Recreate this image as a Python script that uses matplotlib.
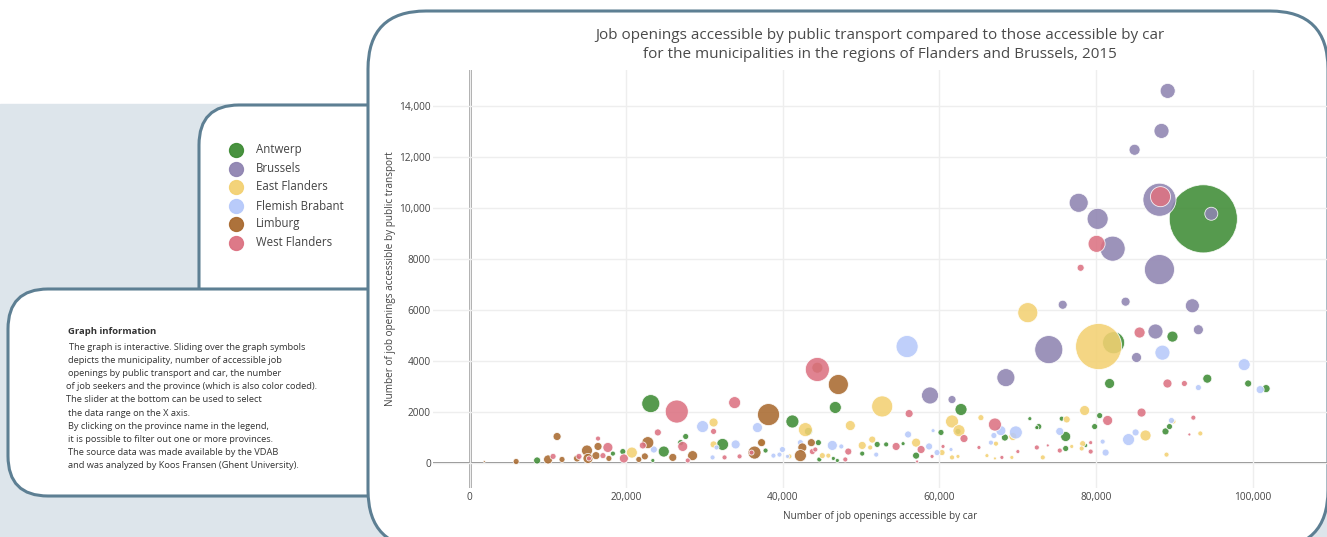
import matplotlib
matplotlib.use("Agg")
import matplotlib.pyplot as plt
from matplotlib.patches import FancyBboxPatch, Rectangle
from matplotlib.ticker import FuncFormatter

plt.rcParams['font.family'] = ['Open Sans', 'DejaVu Sans']

# Province names and colours (legend order = drawing order)
provinces = ["Antwerp", "Brussels", "East Flanders", "Flemish Brabant", "Limburg", "West Flanders"]
colors = ["#3f8c35", "#8f84b1", "#f3d173", "#b6c9fa", "#a96a30", "#dc7282"]

# x = job openings accessible by car, y = by public transport, seekers = bubble size
antwerp_car = [93700, 82240, 89760, 81730, 94210, 99430, 101720, 62750, 62360, 60190, 68350, 71540, 72680, 72430,
               75610, 76120, 80460, 79820, 88870, 89380, 76120, 78670, 57010, 55350, 46690, 41210, 43250, 44530,
               52040, 53190, 50130, 46440, 44650, 46950, 37780, 32290, 27580, 26940, 23120, 24780, 18280, 19550,
               8600, 23380]
antwerp_pt = [9560, 4700, 4940, 3100, 3290, 3100, 2900, 2080, 1220, 1180, 980, 1720, 1410, 1370, 1720, 1020, 1840,
              1410, 1220, 1410, 550, 670, 270, 740, 2160, 1610, 1220, 780, 710, 710, 350, 160, 120, 80, 470, 710,
              1020, 780, 2310, 430, 350, 430, 80, 80]
antwerp_seekers = [46240, 4840, 1210, 1000, 810, 490, 640, 1440, 360, 360, 490, 160, 360, 160, 250, 1000, 360, 360,
                   490, 360, 360, 160, 490, 160, 1440, 1690, 640, 360, 360, 250, 250, 160, 250, 160, 250, 1440, 360,
                   360, 3240, 1210, 250, 360, 490, 160]

brussels_car = [89150, 88360, 84920, 77780, 80200, 88100, 94720, 82120, 88100, 75740, 83770, 92300, 93070, 85170,
                87590, 73960, 68480, 58790, 61600]
brussels_pt = [14580, 13010, 12270, 10190, 9560, 10310, 9760, 8390, 7570, 6190, 6310, 6150, 5210, 4120, 5140, 4430,
               3330, 2630, 2470]
brussels_seekers = [2250, 2250, 1210, 3610, 4410, 10890, 1690, 6250, 9000, 810, 810, 1960, 1000, 1000, 2250, 7840,
                    3240, 2890, 640]

eflanders_car = [80330, 71280, 52680, 48610, 61600, 62490, 65290, 78540, 76250, 86320, 89880, 93320, 89000, 69370,
                 67210, 57010, 60320, 61600, 62360, 66060, 69240, 67080, 73190, 76890, 78290, 78160, 42870, 31140,
                 20700, 37270, 50130, 51410, 51150, 45030, 45800, 31140, 40830]
eflanders_pt = [4550, 5880, 2200, 1450, 1610, 1250, 1760, 2040, 1690, 1060, 1610, 1140, 310, 1020, 740, 780, 390,
                200, 240, 270, 200, 160, 200, 630, 740, 550, 1290, 1570, 390, 780, 670, 900, 590, 270, 270, 710, 240]
eflanders_seekers = [21160, 4000, 4410, 1000, 1690, 1440, 360, 1000, 490, 1210, 250, 250, 250, 640, 250, 810, 360,
                     250, 160, 160, 160, 90, 250, 160, 360, 250, 1960, 810, 1210, 490, 640, 490, 250, 360, 250, 490,
                     250]

fbrabant_car = [55860, 88480, 98920, 100960, 93070, 89630, 84150, 85050, 80840, 81220, 75360, 69750, 67840, 66950,
                66570, 55990, 59180, 58670, 59690, 61470, 29740, 36750, 33960, 46310, 47460, 51920, 39940, 39560,
                38790, 31010, 31520, 23510, 42230, 40580, 36630]
fbrabant_pt = [4550, 4310, 3840, 2860, 2940, 1650, 900, 1180, 820, 390, 1220, 1180, 1250, 1060, 780, 1100, 1250, 630,
               390, 510, 1410, 1370, 710, 670, 630, 310, 510, 310, 270, 200, 590, 510, 780, 240, 240]
fbrabant_seekers = [4840, 2250, 1440, 640, 360, 360, 1440, 490, 250, 490, 640, 1690, 1000, 360, 250, 490, 160, 490,
                    360, 160, 1440, 1000, 810, 1000, 250, 250, 360, 250, 250, 250, 250, 490, 360, 160, 250]

limburg_car = [1850, 5920, 10000, 11150, 11780, 13700, 14970, 15100, 16380, 16120, 17770, 21590, 22740, 22360, 25930,
               28460, 38160, 47080, 44400, 36370, 37270, 42480, 42230, 43630]
limburg_pt = [40, 40, 120, 1020, 120, 160, 470, 160, 630, 270, 160, 120, 780, 240, 200, 270, 1880, 3060, 3720, 390,
              780, 590, 270, 780]
limburg_seekers = [40, 360, 810, 640, 360, 490, 1210, 1000, 640, 640, 360, 360, 1440, 490, 640, 1000, 4840, 4000,
                   1210, 1690, 640, 810, 1440, 640]

wflanders_car = [88230, 80070, 78030, 85560, 44400, 26440, 33830, 56120, 81480, 85810, 89120, 91280, 92430, 91920,
                 63130, 67080, 57650, 54460, 59050, 60450, 65040, 67970, 70010, 72430, 73830, 75360, 79310, 79310,
                 48350, 47970, 57140, 43760, 44140, 31140, 27200, 24020, 22100, 19680, 17640, 17010, 16380, 15220,
                 13950, 10640, 27840, 32540, 34460, 35990]
wflanders_pt = [10430, 8580, 7640, 5100, 3650, 2000, 2350, 1920, 1650, 1960, 3100, 3100, 1760, 1100, 940, 1490, 510,
                630, 240, 630, 590, 200, 430, 590, 670, 470, 780, 430, 430, 120, 40, 430, 510, 1220, 630, 1180, 670,
                160, 590, 270, 940, 160, 240, 240, 80, 200, 240, 390]
wflanders_seekers = [4000, 2890, 490, 1210, 5760, 5290, 1440, 640, 1000, 810, 810, 360, 250, 90, 640, 1690, 640, 640,
                     160, 160, 160, 160, 160, 250, 90, 250, 160, 250, 490, 250, 90, 360, 250, 360, 1000, 490, 490,
                     810, 1000, 360, 250, 250, 360, 360, 250, 250, 250, 250]

x_ticks = [0, 20000, 40000, 60000, 80000, 100000]
y_ticks = [0, 2000, 4000, 6000, 8000, 10000, 12000, 14000]

title = ("Job openings accessible by public transport compared to those accessible by car\n"
         "for the municipalities in the regions of Flanders and Brussels, 2015")
info_title = "Graph information"
info_lines = [
    "The graph is interactive. Sliding over the graph symbols",
    "depicts the municipality, number of accessible job",
    "openings by public transport and car, the number",
    "of job seekers and the province (which is also color coded).",
    "The slider at the bottom can be used to select",
    "the data range on the X axis.",
    "By clicking on the province name in the legend,",
    "it is possible to filter out one or more provinces.",
    "The source data was made available by the VDAB",
    "and was analyzed by Koos Fransen (Ghent University).",
]

series = [
    (antwerp_car, antwerp_pt, antwerp_seekers),
    (brussels_car, brussels_pt, brussels_seekers),
    (eflanders_car, eflanders_pt, eflanders_seekers),
    (fbrabant_car, fbrabant_pt, fbrabant_seekers),
    (limburg_car, limburg_pt, limburg_seekers),
    (wflanders_car, wflanders_pt, wflanders_seekers),
]
size_scale = 0.052  # seekers -> marker area (pt^2)

border = "#5d7f93"
W, H = 1327, 537
fig = plt.figure(figsize=(W / 100, H / 100), dpi=100)

# background layer in pixel coordinates
bg = fig.add_axes([0, 0, 1, 1])
bg.set_xlim(0, W)
bg.set_ylim(H, 0)
bg.axis('off')
bg.add_patch(Rectangle((0, 104), W, H, color="#dde5eb", zorder=0))
bg.add_patch(FancyBboxPatch((199, 105), 300, 300, boxstyle="round,pad=0,rounding_size=40",
                            fc="white", ec=border, lw=2.2, zorder=1))
bg.add_patch(FancyBboxPatch((8, 289), 450, 207, boxstyle="round,pad=0,rounding_size=40",
                            fc="white", ec=border, lw=2.2, zorder=2))
bg.add_patch(FancyBboxPatch((368, 11), 960, 537, boxstyle="round,pad=0,rounding_size=58",
                            fc="white", ec=border, lw=2.2, zorder=3))

# legend
leg_y = [150, 169, 187, 206, 224, 243]
for name, c, yy in zip(provinces, colors, leg_y):
    bg.scatter([236], [yy], s=100, color=c, alpha=0.95, zorder=5)
    bg.text(256, yy, name, fontsize=8.3, color="#444444", va='center', zorder=5)

# info text
bg.text(68, 331, info_title, fontsize=6.8, fontweight='bold', color="#333333", va='center', zorder=5)
info_x = [69, 68, 68, 66, 66, 68, 68, 68, 68, 68]
for i, line in enumerate(info_lines):
    bg.text(info_x[i], 347 + i * 13.2, line, fontsize=6.7, color="#333333", va='center', zorder=5)

# title
bg.text(880, 45, title, fontsize=11, color="#4a4a4a", ha='center', va='center',
        linespacing=1.4, zorder=5)

# main plot
ax = fig.add_axes([433 / W, 1 - 488 / H, (W - 433) / W, (488 - 70) / H])
ax.set_facecolor('none')
for (xs, ys, ss), c, name in zip(series, colors, provinces):
    ax.scatter(xs, ys, s=[v * size_scale for v in ss], color=c, alpha=0.88,
               edgecolors='white', linewidths=0.6, label=name, zorder=3)

ax.set_xlim(-4700, 109500)
ax.set_ylim(-1000, 15400)
ax.set_xticks(x_ticks)
ax.set_yticks(y_ticks)
fmt = FuncFormatter(lambda v, p: f"{int(v):,}" if abs(v) >= 10000 else f"{int(v)}")
ax.xaxis.set_major_formatter(fmt)
ax.yaxis.set_major_formatter(fmt)
ax.grid(True, color="#eeeeee", lw=1, zorder=0)
ax.axhline(0, color="#888888", lw=1.4, zorder=1)
ax.axvline(0, color="#888888", lw=1.8, zorder=1)
for s in ax.spines.values():
    s.set_visible(False)
ax.tick_params(length=0, labelsize=7.3, colors="#444444")
ax.tick_params(axis='y', pad=1.5)
ax.tick_params(axis='x', pad=3)

ax.set_xlabel("Number of job openings accessible by car", fontsize=7.2, color="#444444")
ax.set_ylabel("Number of job openings accessible by public transport", fontsize=7.2, color="#444444")
ax.xaxis.set_label_coords(0.5, -0.055)
ax.yaxis.set_label_coords(-0.0414, 0.5)

fig.savefig("out.png", dpi=100)
